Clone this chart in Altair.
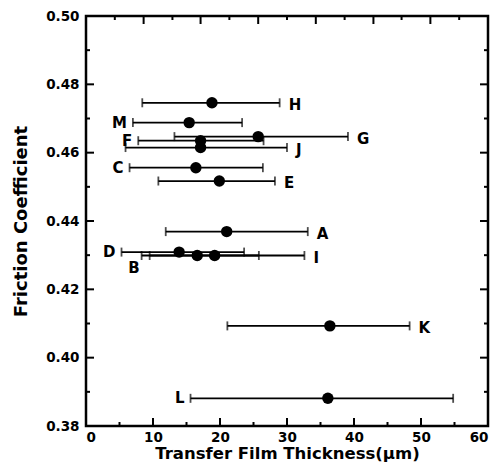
import altair as alt
import pandas as pd

# ---- data ----
samples   = ["H", "M", "G", "F", "J", "C", "E", "A", "D", "B", "I", "K", "L"]
thickness = [18.8, 15.4, 25.7, 17.1, 17.1, 16.4, 19.9, 21.0, 13.9, 16.6, 19.2, 36.4, 36.1]
friction  = [0.4746, 0.4688, 0.4647, 0.4635, 0.4615, 0.4556, 0.4517, 0.4369,
             0.4309, 0.4299, 0.4299, 0.4093, 0.3881]
err_low   = [8.4, 7.0, 13.2, 7.8, 5.9, 6.5, 10.8, 11.9, 5.3, 8.3, 9.5, 21.1, 15.6]
err_high  = [28.9, 23.3, 39.1, 26.5, 30.0, 26.4, 28.2, 33.1, 23.6, 25.8, 32.6, 48.3, 54.8]

right_labelled = ["H", "G", "J", "E", "A", "I", "K"]
left_labelled  = ["M", "F", "C", "D", "L"]
below_labelled = ["B"]

x_tick_labels   = [0, 10, 20, 30, 40, 50, 60]
y_tick_labels   = [0.38, 0.40, 0.42, 0.44, 0.46, 0.48, 0.50]
x_major_ticks   = [10, 20, 30, 40, 50]
x_minor_ticks   = [5, 15, 25, 35, 45, 55]
y_major_ticks   = [0.40, 0.42, 0.44, 0.46, 0.48]
y_minor_ticks   = [0.39, 0.41, 0.43, 0.45, 0.47, 0.49]
top_long_ticks  = [8.6, 17.1, 25.7, 34.3, 42.9, 51.4]
top_short_ticks = [4.3, 12.9, 21.4, 30.0, 38.6, 47.1, 55.7]

W, H = 402, 410
FONT = "DejaVu Sans"

df = pd.DataFrame({"sample": samples, "x": thickness, "y": friction,
                   "lo": err_low, "hi": err_high})

xs = alt.Scale(domain=[0, 60], nice=False, zero=False)
ys = alt.Scale(domain=[0.38, 0.50], nice=False, zero=False)

x_axis = alt.Axis(values=x_tick_labels, format="d", labelPadding=4,
                  title="Transfer Film Thickness(\u03bcm)", titlePadding=2, titleFontSize=16.5)
y_axis = alt.Axis(values=y_tick_labels, format=".2f", labelPadding=7,
                  title="Friction Coefficient", titlePadding=15, titleFontSize=18)

base = alt.Chart(df)

bars = base.mark_rule(color="black", strokeWidth=1.8).encode(
    x=alt.X("lo:Q", scale=xs, axis=x_axis),
    x2="hi:Q",
    y=alt.Y("y:Q", scale=ys, axis=y_axis),
)
caps_lo = base.mark_tick(color="black", orient="vertical", size=9, thickness=1.8).encode(
    x=alt.X("lo:Q", scale=xs), y=alt.Y("y:Q", scale=ys))
caps_hi = base.mark_tick(color="black", orient="vertical", size=9, thickness=1.8).encode(
    x=alt.X("hi:Q", scale=xs), y=alt.Y("y:Q", scale=ys))
points = base.mark_circle(color="black", opacity=1, size=130).encode(
    x=alt.X("x:Q", scale=xs), y=alt.Y("y:Q", scale=ys))

text_kw = dict(font=FONT, fontSize=15, fontWeight="bold", color="black", baseline="middle")
lab_right = base.transform_filter(alt.FieldOneOfPredicate(field="sample", oneOf=right_labelled)) \
    .mark_text(align="left", dx=9, dy=2, **text_kw).encode(
    x=alt.X("hi:Q", scale=xs), y=alt.Y("y:Q", scale=ys), text="sample:N")
lab_left = base.transform_filter(alt.FieldOneOfPredicate(field="sample", oneOf=left_labelled)) \
    .mark_text(align="right", dx=-6, dy=0, **text_kw).encode(
    x=alt.X("lo:Q", scale=xs), y=alt.Y("y:Q", scale=ys), text="sample:N")
lab_below = base.transform_filter(alt.FieldOneOfPredicate(field="sample", oneOf=below_labelled)) \
    .mark_text(align="right", dx=-2, dy=12, **text_kw).encode(
    x=alt.X("lo:Q", scale=xs), y=alt.Y("y:Q", scale=ys), text="sample:N")


def xticks(vals, length, top=False):
    c = alt.Chart(pd.DataFrame({"x": vals})).mark_rule(color="black", strokeWidth=2)
    if top:
        return c.encode(x=alt.X("x:Q", scale=xs), y=alt.value(0), y2=alt.value(length))
    return c.encode(x=alt.X("x:Q", scale=xs), y=alt.value(H), y2=alt.value(H - length))


def yticks(vals, length, right=False):
    c = alt.Chart(pd.DataFrame({"y": vals})).mark_rule(color="black", strokeWidth=2)
    if right:
        return c.encode(y=alt.Y("y:Q", scale=ys), x=alt.value(W), x2=alt.value(W - length))
    return c.encode(y=alt.Y("y:Q", scale=ys), x=alt.value(0), x2=alt.value(length))


ticks = [
    xticks(x_major_ticks, 8), xticks(x_minor_ticks, 4),
    xticks(top_long_ticks, 8, top=True), xticks(top_short_ticks, 4, top=True),
    yticks(y_major_ticks, 8), yticks(y_minor_ticks, 4),
    yticks(y_major_ticks, 8, right=True), yticks(y_minor_ticks, 4, right=True),
]

chart = alt.layer(bars, caps_lo, caps_hi, points, lab_right, lab_left, lab_below, *ticks).properties(
    width=W, height=H,
    autosize=alt.AutoSizeParams(type="none"),
    padding={"left": 78, "top": 8, "right": 3, "bottom": 40},
    background="white",
).configure_view(stroke="black", strokeWidth=2.5).configure_axis(
    ticks=False, domain=False, grid=False,
    labelFont=FONT, labelFontSize=13.5, labelFontWeight="bold", labelColor="black",
    titleFont=FONT, titleFontWeight="bold", titleColor="black",
)

chart.save("out.html", embed_options={"renderer": "svg", "actions": False})
